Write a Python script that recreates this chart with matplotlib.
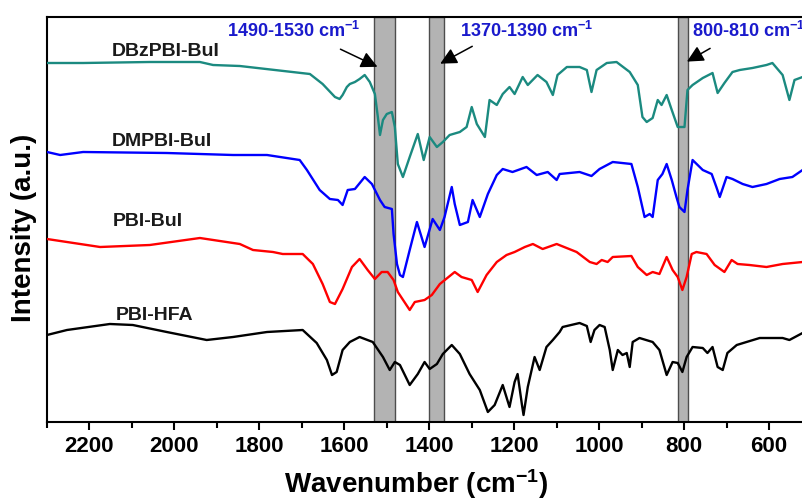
import numpy as np
import matplotlib
matplotlib.use("Agg")
import matplotlib.pyplot as plt

plt.rcParams['font.family'] = ['Liberation Sans', 'DejaVu Sans']
plt.rcParams['mathtext.fontset'] = 'custom'
plt.rcParams['mathtext.rm'] = 'Liberation Sans:bold'
plt.rcParams['mathtext.it'] = 'Liberation Sans:bold'
plt.rcParams['mathtext.bf'] = 'Liberation Sans:bold'

# FTIR spectra (wavenumber, arbitrary intensity)
dbz_wn = [2300, 2215, 2058, 1940, 1909, 1846, 1681, 1651, 1622, 1611, 1604, 1594, 1587, 1575,
          1564, 1552, 1540, 1528, 1521, 1516, 1509, 1500, 1488, 1481, 1474, 1462, 1446, 1427,
          1413, 1399, 1382, 1368, 1352, 1328, 1312, 1300, 1288, 1269, 1258, 1241, 1227, 1211,
          1199, 1180, 1168, 1145, 1124, 1109, 1098, 1076, 1046, 1029, 1018, 1006, 982, 959,
          928, 909, 898, 888, 874, 862, 853, 841, 829, 815, 799, 792, 780, 756, 733, 721, 705,
          686, 669, 639, 606, 592, 568, 552, 540, 521]
dbz_int = [359, 359, 360, 360, 357, 356, 348, 338, 325, 323, 327, 335, 338, 340,
           343, 347, 340, 328, 305, 287, 302, 308, 310, 295, 258, 245, 265, 288,
           262, 285, 275, 280, 287, 290, 295, 315, 298, 285, 322, 317, 328, 335,
           328, 345, 337, 347, 340, 327, 347, 355, 355, 352, 330, 352, 359, 360,
           350, 337, 305, 300, 304, 322, 317, 327, 312, 295, 295, 332, 337, 344, 349, 329, 339,
           350, 352, 354, 357, 359, 347, 322, 342, 345]

dm_wn = [2300, 2269, 2215, 2018, 1862, 1782, 1705, 1688, 1658, 1634, 1615, 1604, 1592, 1575,
         1552, 1535, 1516, 1505, 1488, 1484, 1476, 1469, 1462, 1446, 1429, 1411, 1392, 1375,
         1364, 1347, 1340, 1328, 1309, 1298, 1281, 1262, 1241, 1227, 1204, 1171, 1147, 1121,
         1100, 1093, 1046, 1018, 999, 968, 924, 909, 893, 881, 874, 862, 851, 841, 829, 818,
         811, 799, 792, 780, 768, 756, 735, 724, 716, 700, 686, 662, 639, 606, 575, 545, 521]
dm_int = [270, 267, 270, 269, 267, 267, 262, 252, 232, 223, 222, 217, 232, 233,
          245, 238, 222, 215, 213, 188, 158, 147, 145, 172, 200, 175, 203, 192,
          205, 235, 218, 197, 200, 222, 205, 228, 247, 253, 250, 255, 247, 250,
          242, 248, 250, 246, 253, 260, 258, 235, 205, 208, 205, 242, 248, 258, 242, 225,
          215, 210, 232, 262, 257, 252, 248, 235, 225, 245, 243, 238, 235, 238, 243, 245, 252]

pbi_wn = [2300, 2175, 2058, 1940, 1846, 1815, 1768, 1745, 1698, 1674, 1651, 1634, 1622, 1604,
          1582, 1564, 1545, 1528, 1512, 1498, 1484, 1474, 1446, 1434, 1411, 1394, 1375, 1340,
          1324, 1300, 1286, 1265, 1241, 1218, 1199, 1175, 1156, 1133, 1100, 1053, 1022, 1006,
          994, 980, 968, 924, 909, 888, 874, 858, 841, 827, 815, 804, 794, 782, 771, 747, 728,
          705, 688, 674, 646, 606, 568, 521]
pbi_int = [183, 175, 177, 184, 178, 172, 170, 168, 168, 158, 138, 120, 118, 133,
           155, 163, 152, 143, 150, 150, 142, 130, 112, 120, 122, 127, 138, 150,
           145, 142, 130, 147, 160, 167, 170, 175, 178, 173, 178, 170, 160, 158,
           162, 160, 165, 166, 155, 147, 150, 148, 165, 152, 145, 132, 145, 168, 170, 168, 157,
           150, 162, 158, 157, 155, 158, 160]

hfa_wn = [2300, 2253, 2152, 2098, 2018, 1924, 1862, 1782, 1698, 1665, 1641, 1629, 1618, 1604,
          1587, 1564, 1533, 1509, 1493, 1481, 1469, 1446, 1427, 1411, 1399, 1382, 1368, 1347,
          1328, 1305, 1281, 1262, 1246, 1227, 1211, 1199, 1192, 1182, 1178, 1168, 1152, 1140,
          1124, 1109, 1093, 1086, 1046, 1029, 1020, 1011, 999, 987, 975, 968, 956, 945, 935,
          928, 921, 905, 874, 858, 841, 827, 815, 804, 794, 780, 756, 745, 733, 721, 709, 698,
          676, 653, 622, 592, 568, 552, 521]
hfa_int = [87, 92, 98, 97, 90, 82, 85, 90, 92, 79, 62, 47, 50, 72,
           80, 85, 80, 65, 52, 60, 57, 37, 48, 60, 53, 58, 68, 77,
           68, 48, 32, 10, 17, 37, 15, 40, 48, 18, 7, 35, 65, 52,
           75, 82, 90, 95, 99, 96, 80, 92, 97, 95, 72, 52, 72, 67, 69,
           55, 80, 84, 80, 72, 47, 60, 59, 50, 65, 75, 74, 69, 75, 55, 52, 69,
           77, 80, 84, 84, 84, 82, 89]

names = ['DBzPBI-BuI', 'DMPBI-BuI', 'PBI-BuI', 'PBI-HFA']
colors = ['#1b8a80', '#0000ff', '#ff0000', '#000000']

# highlighted regions (start, end) in cm-1 and their captions
bands = [(1530, 1480), (1400, 1365), (815, 790)]
band_labels = ['1490-1530 cm$^{-1}$', '1370-1390 cm$^{-1}$', '800-810 cm$^{-1}$']

fig = plt.figure(figsize=(8.03, 5.04), dpi=100)
ax = fig.add_axes([47 / 803, 82 / 504, 756 / 803, 405 / 504])

for lo, hi in bands:
    ax.axvspan(lo, hi, facecolor='#b3b3b3', edgecolor='#4d4d4d', lw=1.0, zorder=1)

series = [(dbz_wn, dbz_int), (dm_wn, dm_int), (pbi_wn, pbi_int), (hfa_wn, hfa_int)]
for (wn, inten), c in zip(series, colors):
    ax.plot(wn, inten, color=c, lw=1.7, solid_joinstyle='round', zorder=3)

# curve names
name_pos = [(2147, 370), (2147, 281), (2145, 200), (2138, 106)]
for n, (x, y) in zip(names, name_pos):
    ax.text(x, y, n, fontsize=14, fontweight='bold', color='#1a1a1a',
            va='center', ha='left', zorder=4)

# band captions with arrows
cap_pos = [(1876, 391), (1328, 391), (782, 391)]
arrows = [((1615, 374), (1516, 354)), ((1293, 377), (1380, 357)), ((733, 375), (799, 359))]
for lab, (x, y), (start, end) in zip(band_labels, cap_pos, arrows):
    ax.text(x, y, lab, fontsize=13, fontweight='bold', color='#1a1acc',
            va='center', ha='left', zorder=4, clip_on=False)
    ax.annotate('', xy=end, xytext=start,
                arrowprops=dict(arrowstyle='-|>,head_length=1.0,head_width=0.5',
                                color='black', lw=1.1), zorder=4)

ax.set_xlim(2300, 520)
ax.set_ylim(0, 405)
ax.set_xticks([2200, 2000, 1800, 1600, 1400, 1200, 1000, 800, 600])
ax.set_xticks(np.arange(2300, 520, -100), minor=True)
ax.set_yticks([])
ax.tick_params(axis='x', which='major', direction='out', length=6, width=1.5,
               labelsize=16, pad=4)
ax.tick_params(axis='x', which='minor', direction='out', length=4, width=1.5)
for lbl in ax.get_xticklabels():
    lbl.set_fontweight('bold')

for s in ['left', 'bottom', 'top']:
    ax.spines[s].set_linewidth(1.5)
ax.spines['right'].set_visible(False)

ax.set_xlabel('Wavenumber (cm$^{-1}$)', fontsize=20, fontweight='bold')
ax.xaxis.set_label_coords(0.488, -0.112)
ax.set_ylabel('Intensity (a.u.)', fontsize=20, fontweight='bold')
ax.yaxis.set_label_coords(-0.013, 0.48)

fig.savefig('out.png', dpi=100)
